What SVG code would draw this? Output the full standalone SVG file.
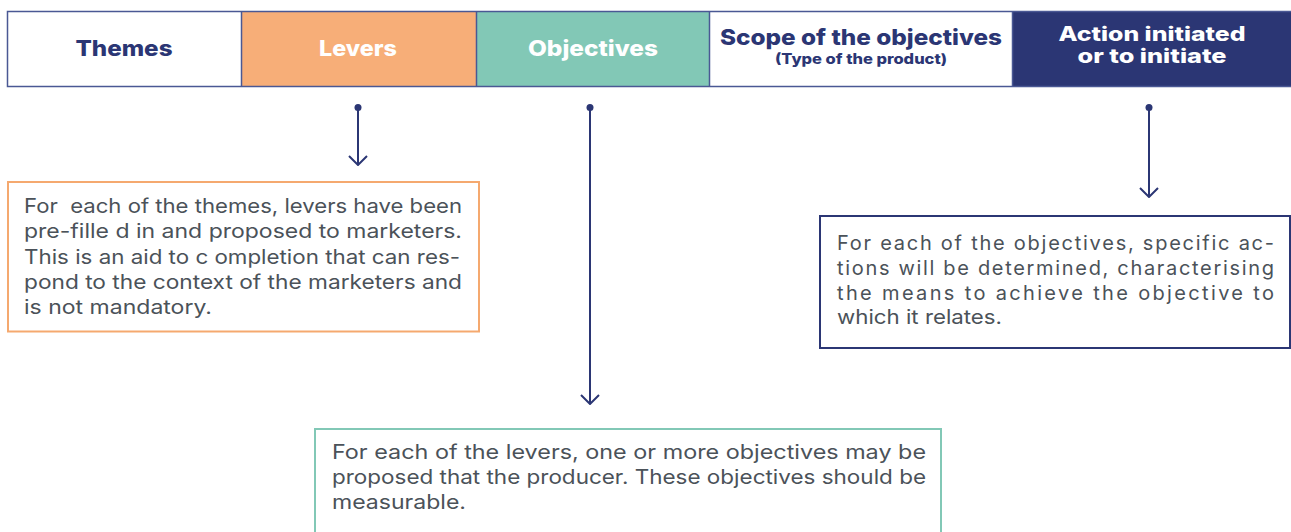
<svg xmlns="http://www.w3.org/2000/svg" width="1291" height="532" viewBox="0 0 1291 532">
  <style>
    .hdr { font-family: "Inter", "Liberation Sans", sans-serif; font-weight: 800; text-anchor: middle; }
    .navy { fill: #2B3674; }
    .white { fill: #FFFFFF; }
    .body { font-family: "Inter", "Liberation Sans", sans-serif; font-size: 20px; fill: #4B5259; }
    .conn { stroke: #2B3674; stroke-width: 2; fill: none; }
  </style>
  <defs>
    <!-- open chevron arrowhead, drawn along the +x axis so orient="auto" follows the line -->
    <marker id="open-arrow" viewBox="0 0 12 20" refX="11" refY="10" markerWidth="12" markerHeight="20" markerUnits="userSpaceOnUse" orient="auto">
      <path d="M2,1 L11,10 L2,19" fill="none" stroke="#2B3674" stroke-width="2"/>
    </marker>
  </defs>
  <rect width="1291" height="532" fill="#FFFFFF"/>

  <!-- header row -->
  <g id="header">
    <g id="h-themes">
      <rect x="7.5" y="11.5" width="234" height="75" fill="#FFFFFF"/>
      <text class="hdr navy" x="124" y="56" font-size="22" textLength="97" lengthAdjust="spacingAndGlyphs">Themes</text>
    </g>
    <g id="h-levers">
      <rect x="241.5" y="11.5" width="235" height="75" fill="#F7AE78"/>
      <text class="hdr white" x="358" y="56" font-size="22" textLength="78" lengthAdjust="spacingAndGlyphs">Levers</text>
    </g>
    <g id="h-objectives">
      <rect x="476.5" y="11.5" width="233" height="75" fill="#82C8B6"/>
      <text class="hdr white" x="593" y="56" font-size="22" textLength="130" lengthAdjust="spacingAndGlyphs">Objectives</text>
    </g>
    <g id="h-scope">
      <rect x="709.5" y="11.5" width="303" height="75" fill="#FFFFFF"/>
      <text class="hdr navy" x="861" y="45" font-size="22" textLength="282" lengthAdjust="spacingAndGlyphs">Scope of the objectives</text>
      <text class="hdr navy" x="861" y="64" font-size="14" textLength="172" lengthAdjust="spacingAndGlyphs">(Type of the product)</text>
    </g>
    <g id="h-action">
      <rect x="1012.5" y="11.5" width="279" height="75" fill="#2B3674"/>
      <text class="hdr white" x="1152" y="41" font-size="20" textLength="187" lengthAdjust="spacingAndGlyphs">Action initiated</text>
      <text class="hdr white" x="1152" y="63" font-size="20" textLength="149" lengthAdjust="spacingAndGlyphs">or to initiate</text>
    </g>
    <!-- outline and dividers -->
    <rect x="7.5" y="11.5" width="1290" height="75" fill="none" stroke="#4A5894" stroke-width="1.5"/>
    <path d="M241.5,11.5 V86.5 M476.5,11.5 V86.5 M709.5,11.5 V86.5 M1012.5,11.5 V86.5" stroke="#4A5894" stroke-width="1.5"/>
  </g>

  <!-- connectors -->
  <g id="connectors">
    <circle cx="358" cy="107.5" r="3.5" fill="#2B3674"/>
    <line class="conn" x1="358" y1="107.5" x2="358" y2="165" marker-end="url(#open-arrow)"/>
    <circle cx="590" cy="107.5" r="3.5" fill="#2B3674"/>
    <line class="conn" x1="590" y1="107.5" x2="590" y2="404" marker-end="url(#open-arrow)"/>
    <circle cx="1149" cy="107.5" r="3.5" fill="#2B3674"/>
    <line class="conn" x1="1149" y1="107.5" x2="1149" y2="197" marker-end="url(#open-arrow)"/>
  </g>

  <!-- note under Levers -->
  <g id="note-levers">
    <rect x="8" y="182" width="471" height="149.5" fill="#FFFFFF" stroke="#F5A96F" stroke-width="2"/>
    <text class="body" x="24" y="213" textLength="438" lengthAdjust="spacingAndGlyphs" xml:space="preserve">For  each of the themes, levers have been</text>
    <text class="body" x="24" y="238" textLength="438" lengthAdjust="spacingAndGlyphs">pre-fille d in and proposed to marketers.</text>
    <text class="body" x="24" y="263.5" textLength="436" lengthAdjust="spacingAndGlyphs">This is an aid to c ompletion that can res-</text>
    <text class="body" x="24" y="288.5" textLength="438" lengthAdjust="spacingAndGlyphs">pond to the context of the marketers and</text>
    <text class="body" x="24" y="314" textLength="188" lengthAdjust="spacingAndGlyphs">is not mandatory.</text>
  </g>

  <!-- note under Action -->
  <g id="note-action">
    <rect x="820" y="216" width="470" height="132" fill="#FFFFFF" stroke="#2B3674" stroke-width="2"/>
    <text class="body" x="837" y="250" textLength="437" lengthAdjust="spacing">For each of the objectives, specific ac-</text>
    <text class="body" x="837" y="275" textLength="437" lengthAdjust="spacing">tions will be determined, characterising</text>
    <text class="body" x="837" y="299.5" textLength="437" lengthAdjust="spacing">the means to achieve the objective to</text>
    <text class="body" x="837" y="324" textLength="165" lengthAdjust="spacingAndGlyphs">which it relates.</text>
  </g>

  <!-- note under Objectives -->
  <g id="note-objectives">
    <rect x="315" y="429" width="626" height="110" fill="#FFFFFF" stroke="#82C8B6" stroke-width="2"/>
    <text class="body" x="332" y="459" textLength="594" lengthAdjust="spacingAndGlyphs">For each of the levers, one or more objectives may be</text>
    <text class="body" x="332" y="484" textLength="594" lengthAdjust="spacingAndGlyphs">proposed that the producer. These objectives should be</text>
    <text class="body" x="332" y="509" textLength="134" lengthAdjust="spacingAndGlyphs">measurable.</text>
  </g>
</svg>
